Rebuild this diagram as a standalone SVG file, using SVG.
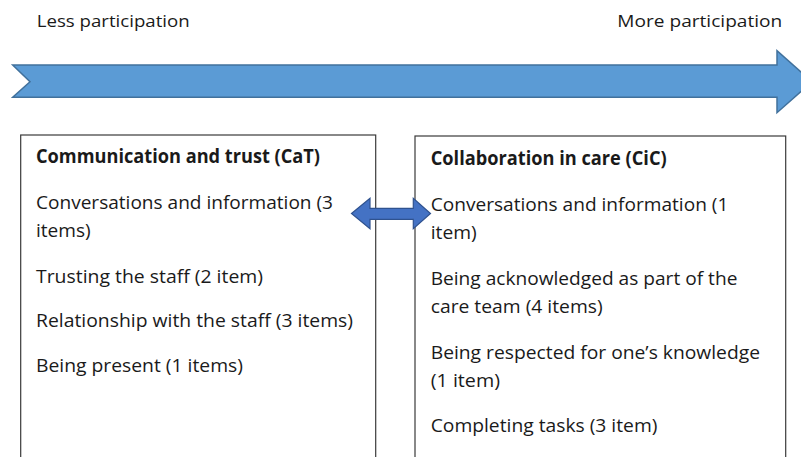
<svg xmlns="http://www.w3.org/2000/svg" width="801" height="457" viewBox="0 0 801 457">
  <defs>
    <style>
      .lbl { font-family: "Open Sans", "Liberation Sans", sans-serif; fill: #1a1a1a; }
      .top { font-size: 17px; }
      .body { font-size: 19px; }
      .head { font-size: 19px; font-weight: bold; }
      .box { fill: #ffffff; stroke: #3a3a3a; stroke-width: 1.2; }
      .scale { fill: #5b9bd5; stroke: #41719c; stroke-width: 1.5; stroke-linejoin: miter; }
      .link { fill: #4472c4; stroke: #2f528f; stroke-width: 1.2; }
    </style>
  </defs>
  <rect width="801" height="457" fill="#ffffff"/>

  <!-- participation scale -->
  <g id="scale">
    <text class="lbl top" x="36.7" y="26.5" textLength="153" lengthAdjust="spacingAndGlyphs">Less participation</text>
    <text class="lbl top" x="617.3" y="26.5" textLength="165" lengthAdjust="spacingAndGlyphs">More participation</text>
    <polygon class="scale" points="12.7,65 777,65 777,50.7 812,81.7 777,112.7 777,97.3 12.7,97.3 30,81.7"/>
  </g>

  <!-- Communication and trust -->
  <g id="cat">
    <rect class="box" x="20.7" y="135" width="355" height="340"/>
    <text class="lbl head" x="36" y="163.3" textLength="284" lengthAdjust="spacingAndGlyphs">Communication and trust (CaT)</text>
    <text class="lbl body" x="36" y="209.3" textLength="297" lengthAdjust="spacingAndGlyphs">Conversations and information (3</text>
    <text class="lbl body" x="36" y="237.3" textLength="54.7" lengthAdjust="spacingAndGlyphs">items)</text>
    <text class="lbl body" x="36" y="282.7" textLength="227" lengthAdjust="spacingAndGlyphs">Trusting the staff (2 item)</text>
    <text class="lbl body" x="36" y="327.3" textLength="317" lengthAdjust="spacingAndGlyphs">Relationship with the staff (3 items)</text>
    <text class="lbl body" x="36" y="372.3" textLength="207" lengthAdjust="spacingAndGlyphs">Being present (1 items)</text>
  </g>

  <!-- Collaboration in care -->
  <g id="cic">
    <rect class="box" x="415" y="136" width="370.7" height="340"/>
    <text class="lbl head" x="430.7" y="165" textLength="236" lengthAdjust="spacingAndGlyphs">Collaboration in care (CiC)</text>
    <text class="lbl body" x="430.7" y="210.7" textLength="297.7" lengthAdjust="spacingAndGlyphs">Conversations and information (1</text>
    <text class="lbl body" x="430.7" y="239" textLength="46" lengthAdjust="spacingAndGlyphs">item)</text>
    <text class="lbl body" x="430.7" y="285" textLength="306.7" lengthAdjust="spacingAndGlyphs">Being acknowledged as part of the</text>
    <text class="lbl body" x="430.7" y="313.3" textLength="172" lengthAdjust="spacingAndGlyphs">care team (4 items)</text>
    <text class="lbl body" x="430.7" y="359" textLength="329.3" lengthAdjust="spacingAndGlyphs">Being respected for one’s knowledge</text>
    <text class="lbl body" x="430.7" y="386.7" textLength="69.3" lengthAdjust="spacingAndGlyphs">(1 item)</text>
    <text class="lbl body" x="430.7" y="431.7" textLength="226.7" lengthAdjust="spacingAndGlyphs">Completing tasks (3 item)</text>
  </g>

  <!-- two-way link between the boxes -->
  <g id="connectors">
    <polygon class="link" points="351.5,213.5 370,198.3 370,208.3 413.3,208.3 413.3,198.3 430.5,213.5 413.3,228.7 413.3,219.3 370,219.3 370,228.7"/>
  </g>
</svg>
